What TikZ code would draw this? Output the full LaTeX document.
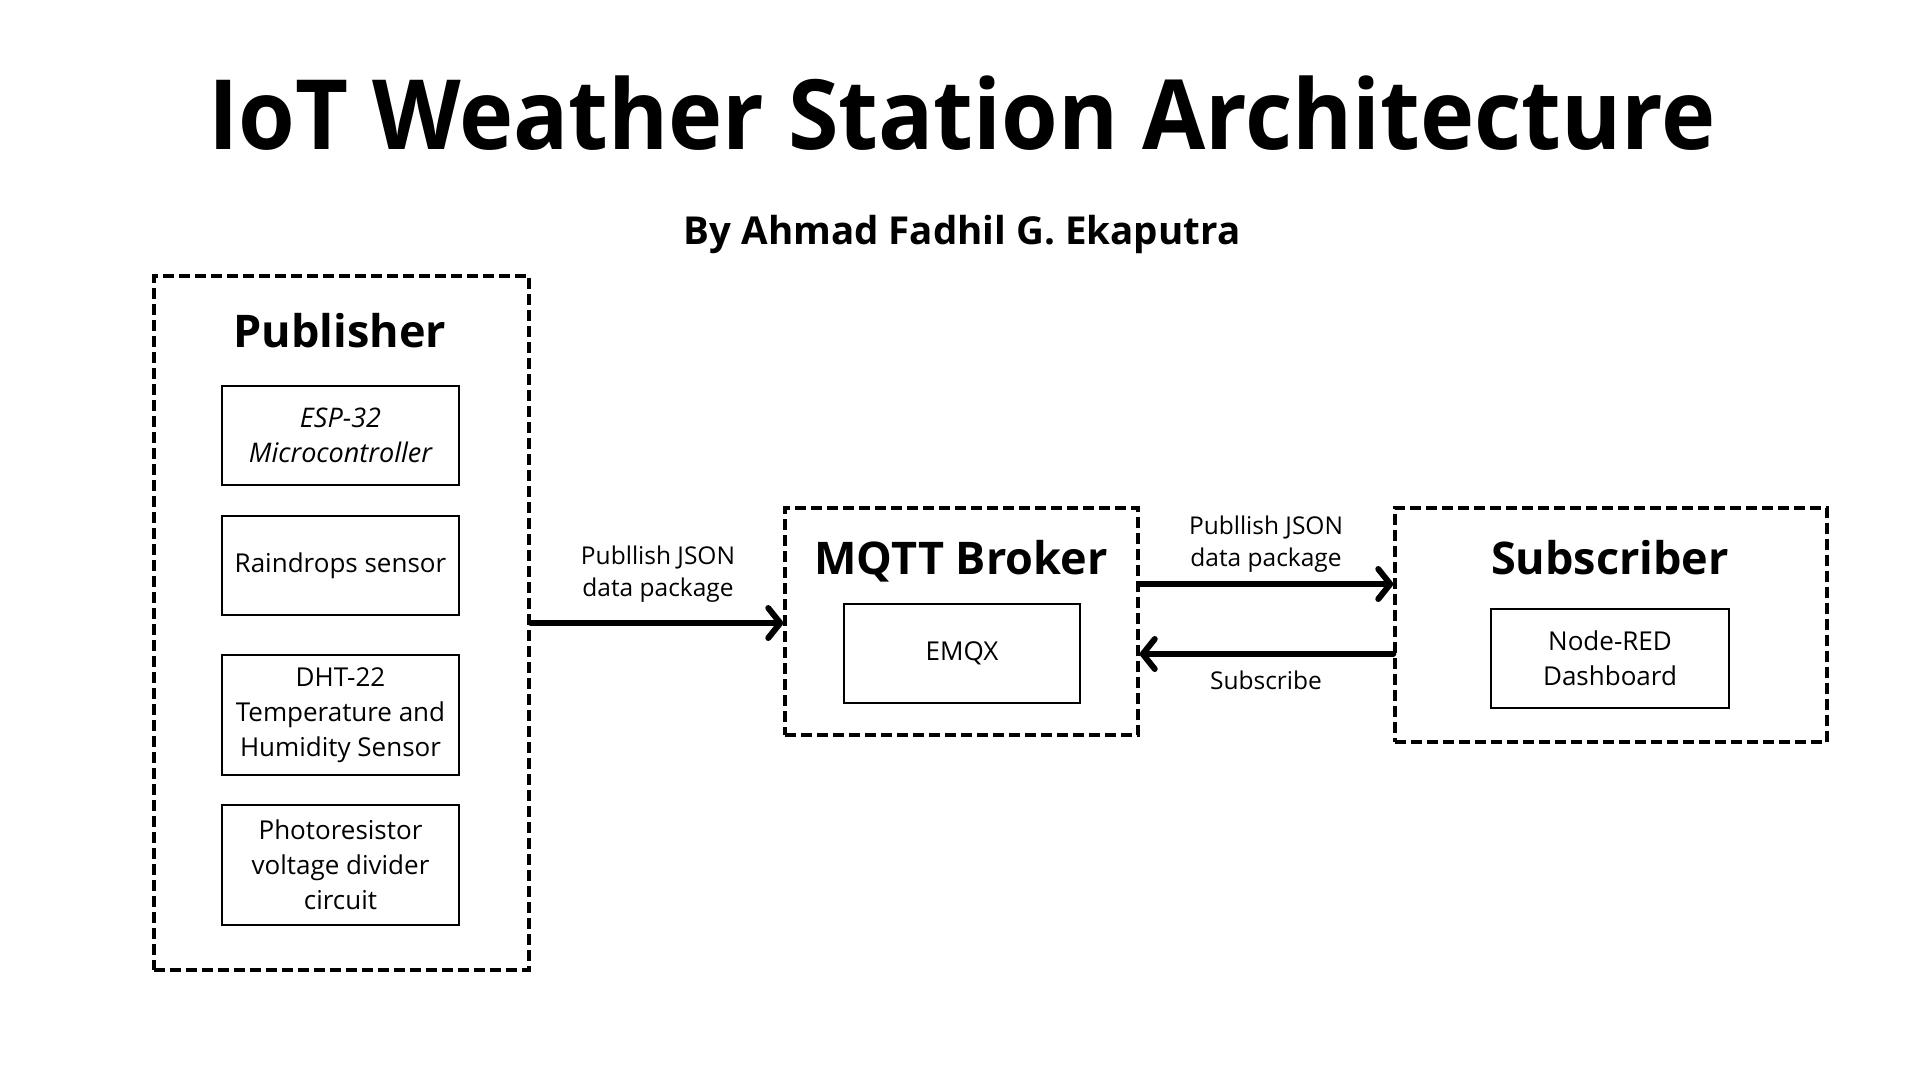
\documentclass[tikz,border=0pt]{standalone}
\usepackage{fontspec}
\setmainfont{Open Sans}
\newfontfamily\titlefont[FakeStretch=0.945]{Open Sans}
\usetikzlibrary{arrows.meta}
\begin{document}
\begin{tikzpicture}[x=1pt,y=-1pt,
  container/.style={draw, line width=3.5pt, dash pattern=on 11pt off 5pt, inner sep=0pt},
  inbox/.style={draw, line width=2.6pt, align=center, inner sep=0pt, minimum width=237pt,
     font=\fontsize{26}{35}\selectfont},
  grouptitle/.style={font=\bfseries\fontsize{45}{50}\selectfont, inner sep=0pt},
  lbl/.style={align=center, inner sep=0pt, font=\fontsize{24.5}{32}\selectfont},
  arr/.style={line width=6pt, line cap=round,
     -{Straight Barb[length=12pt,width=30pt,line cap=round,line join=round]}}]
\useasboundingbox[fill=white] (0,0) rectangle (1920,1080);

% titles
\node[anchor=base, inner sep=0pt, font=\titlefont\bfseries\fontsize{97}{100}\selectfont] (title) at (962,149) {IoT Weather Station Architecture};
\node[anchor=base, inner sep=0pt, font=\bfseries\fontsize{38.5}{42}\selectfont] (subtitle) at (962,244) {By Ahmad Fadhil G. Ekaputra};

% containers
\node[container, minimum width=375pt, minimum height=694pt] (pub) at (341.5,623) {};
\node[container, minimum width=353pt, minimum height=227pt] (mqtt) at (961.5,621.5) {};
\node[container, minimum width=432pt, minimum height=234pt] (sub) at (1611,625) {};

% group titles
\node[grouptitle, anchor=base] (pubt) at (340,347) {Publisher};
\node[grouptitle, anchor=base] (mqttt) at (961,574) {MQTT Broker};
\node[grouptitle, anchor=base] (subt) at (1610,574) {Subscriber};

% publisher components
\node[inbox, minimum height=99pt] (esp) at (340.5,435.5) {\itshape\fontsize{27}{35}\selectfont ESP-32\\\itshape\fontsize{27}{35}\selectfont Microcontroller};
\node[inbox, minimum height=99pt] (rain) at (340.5,565.5) {Raindrops sensor};
\node[inbox, minimum height=120pt] (dht) at (340.5,715) {DHT-22\\Temperature and\\Humidity Sensor};
\node[inbox, minimum height=120pt] (photo) at (340.5,865) {Photoresistor\\voltage divider\\circuit};

% broker and subscriber components
\node[inbox, minimum width=236pt, minimum height=99pt] (emqx) at (962,653.5) {EMQX};
\node[inbox, minimum width=238pt, minimum height=99pt] (nodered) at (1610,658.5) {Node-RED\\Dashboard};

% connectors
\draw[arr] (pub.east) -- (pub.east -| mqtt.west);
\draw[arr] ([yshift=37.5pt]mqtt.east) -- ([yshift=37.5pt]mqtt.east -| sub.west);
\draw[arr] ([yshift=-32.5pt]mqtt.east -| sub.west) -- ([yshift=-32.5pt]mqtt.east);

% labels
\node[lbl] (l1) at (658,574) {Publlish JSON\\data package};
\node[lbl] (l2) at (1266,544) {Publlish JSON\\data package};
\node[lbl] (l3) at (1266,680) {Subscribe};
\end{tikzpicture}
\end{document}
